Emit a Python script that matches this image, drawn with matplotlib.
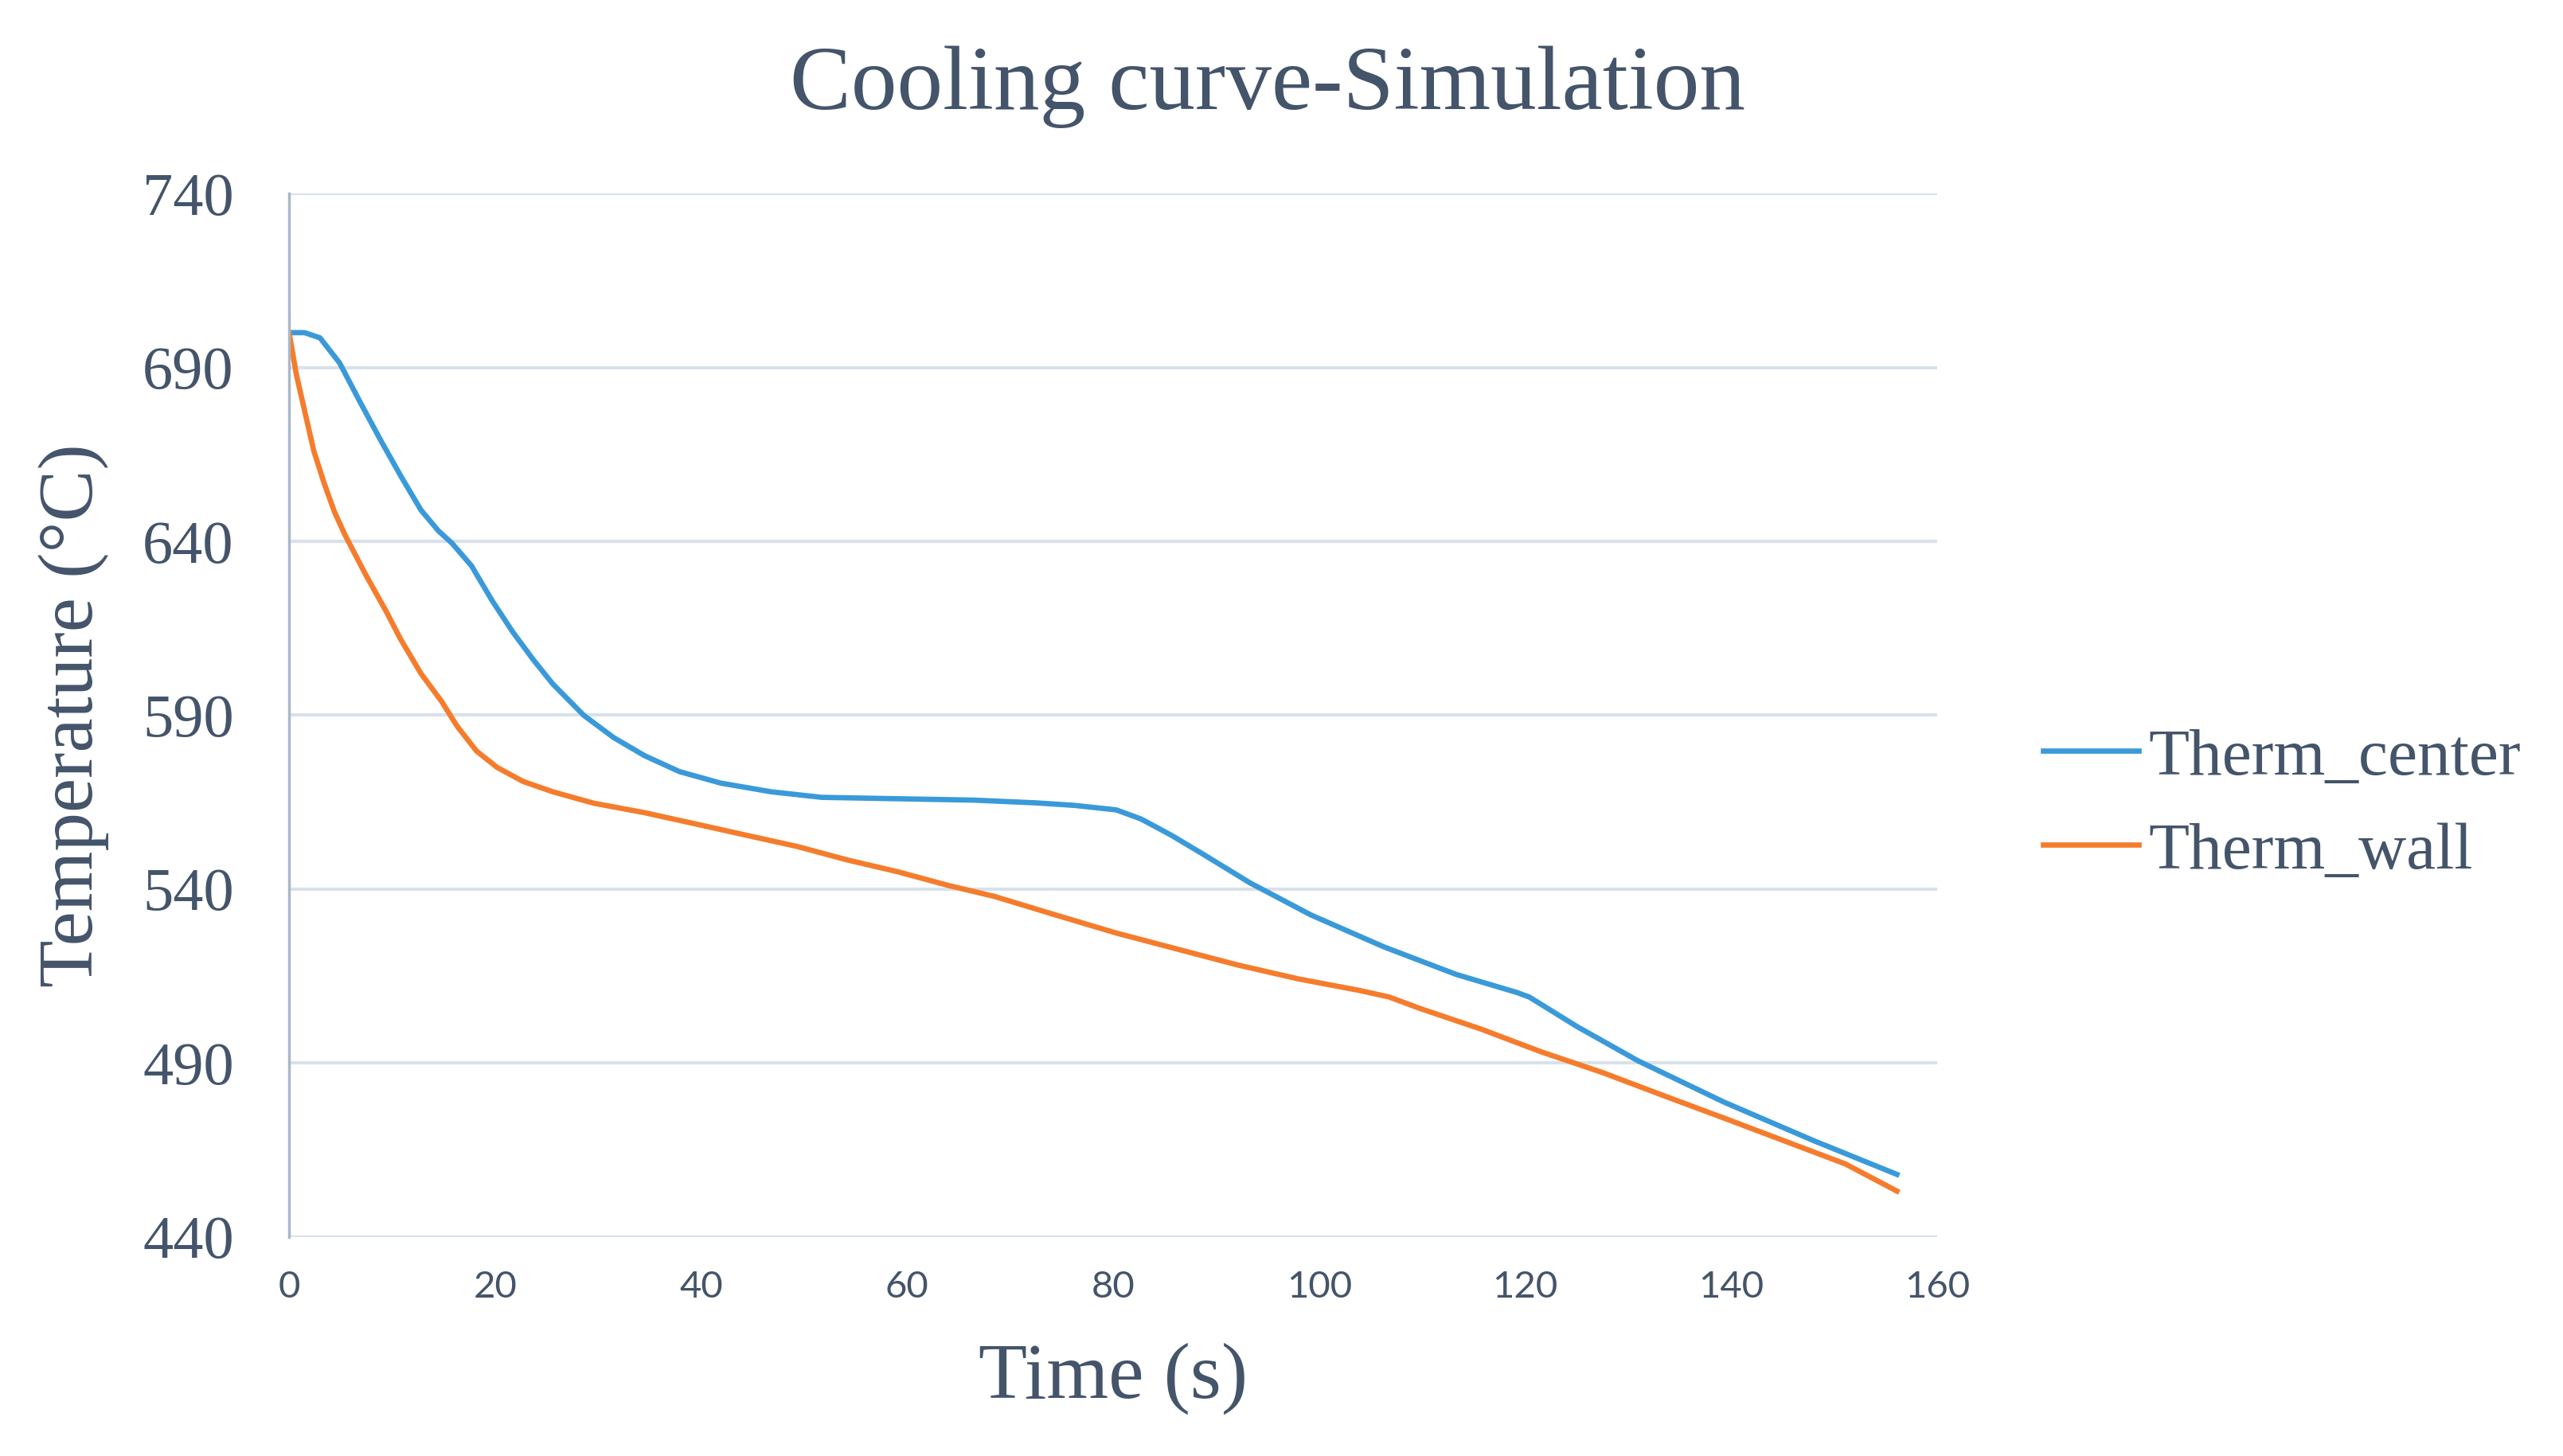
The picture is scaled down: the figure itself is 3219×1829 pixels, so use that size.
import matplotlib.pyplot as plt

# values
time_center = [0, 1.5, 3.0, 4.9, 6.9, 8.9, 10.8, 12.8, 14.5, 15.8, 17.7, 19.7, 21.7, 23.7, 25.6,
               28.6, 31.5, 34.5, 37.9, 41.9, 46.8, 51.7, 59.1, 66.5, 72.6, 76.2, 80.3, 82.7,
               85.6, 88.6, 93.3, 99.2, 106.3, 113.3, 119.2, 120.4, 125.1, 131.0, 139.3, 148.1, 156.1]
temp_center = [700, 700, 698.5, 691.3, 680, 669, 659, 649, 643, 639.5, 633, 623, 614, 606, 599,
               590, 583.6, 578.4, 573.8, 570.5, 568, 566.4, 566, 565.6, 564.8, 564.1, 562.8, 560.2,
               555.6, 550.3, 541.8, 532.6, 523.4, 515.5, 510.3, 509, 500.4, 490.6, 478.8, 467.6, 458]

time_wall = [0, 0.7, 1.5, 2.4, 3.4, 4.4, 5.4, 7.4, 9.4, 10.8, 12.8, 14.8, 16.3, 18.2, 20.2, 22.7,
             25.6, 29.6, 34.5, 39.4, 44.4, 49.3, 54.2, 59.1, 64.1, 68.5, 74.4, 80.3, 86.2, 92.1,
             98.0, 103.9, 106.8, 109.8, 115.7, 121.6, 127.5, 133.4, 139.3, 145.2, 151.1, 156.1]
temp_wall = [700, 688, 677.6, 666, 656.7, 648.5, 642, 630.6, 620, 612, 602, 594, 586.9, 579.7,
             575, 571, 568, 564.7, 562, 558.8, 555.5, 552.3, 548.4, 545, 541, 537.9, 532.6, 527.4,
             522.8, 518.2, 514.2, 510.9, 509, 505.7, 499.8, 493.2, 487.3, 480.7, 474.2, 467.6,
             461, 453.2]

y_ticks = [440, 490, 540, 590, 640, 690, 740]
x_ticks = [0, 20, 40, 60, 80, 100, 120, 140, 160]

txt = '#44546A'
serif = 'Liberation Serif'

fig = plt.figure(figsize=(32.19, 18.29), dpi=100)
ax = fig.add_axes([0.1128, 0.1504, 0.643, 0.7167])

ax.plot(time_center, temp_center, color='#3A9AD9', lw=4.8, label='Therm_center')
ax.plot(time_wall, temp_wall, color='#F57C2C', lw=4.8, label='Therm_wall')

ax.set_xlim(0, 160)
ax.set_ylim(440, 740)
ax.set_yticks(y_ticks)
ax.set_xticks(x_ticks)
ax.grid(axis='y', color='#D9E1EA', lw=3)
ax.set_axisbelow(True)
for s in ['top', 'right', 'bottom']:
    ax.spines[s].set_visible(False)
ax.spines['left'].set_color('#A9B8C9')
ax.spines['left'].set_linewidth(2.5)
ax.tick_params(length=0)
ax.tick_params(axis='y', pad=50, labelsize=55, labelcolor=txt)
ax.tick_params(axis='x', pad=30, labelsize=34, labelcolor=txt)
for lab in ax.get_yticklabels():
    lab.set_family(serif)
for lab in ax.get_xticklabels():
    lab.set_family('Lato')

ax.set_xlabel('Time (s)', family=serif, fontsize=72, color=txt, labelpad=35)
ax.set_ylabel('Temperature (°C)', family=serif, fontsize=70, color=txt, labelpad=30)
fig.text(0.4945, 0.925, 'Cooling curve-Simulation', family=serif, fontsize=83, color=txt,
         ha='center', va='baseline')

leg = ax.legend(loc='center left', bbox_to_anchor=(0.797, 0.447), bbox_transform=fig.transFigure,
                frameon=False, prop={'family': serif, 'size': 60}, handlelength=1.45,
                handletextpad=0.15, labelspacing=0.5, borderpad=0, borderaxespad=0)
for t in leg.get_texts():
    t.set_color(txt)

fig.savefig('out.png', dpi=100)
